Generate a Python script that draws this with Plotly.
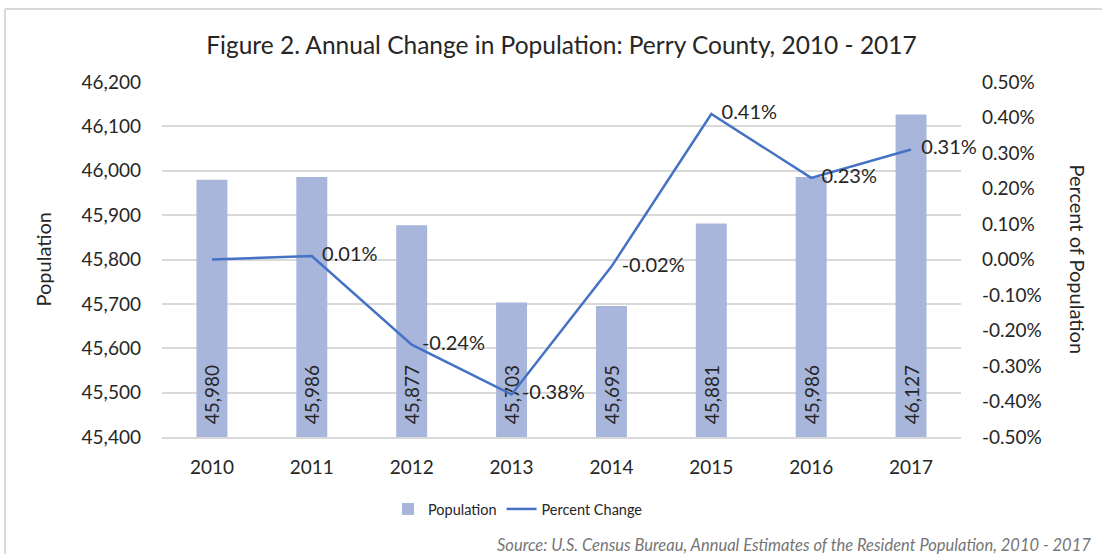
import plotly.graph_objects as go

# data
years = ["2010", "2011", "2012", "2013", "2014", "2015", "2016", "2017"]
population = [45980, 45986, 45877, 45703, 45695, 45881, 45986, 46127]
pct_change = [0.0000, 0.0001, -0.0024, -0.0038, -0.0002, 0.0041, 0.0023, 0.0031]
pct_labels = ["", "0.01%", "-0.24%", "-0.38%", "-0.02%", "0.41%", "0.23%", "0.31%"]

pop_axis_min = 45400
pct_ticks = [-0.005, -0.004, -0.003, -0.002, -0.001, 0, 0.001, 0.002, 0.003, 0.004, 0.005]
pct_ticktext = ["-0.50%", "-0.40%", "-0.30%", "-0.20%", "-0.10%", "0.00%",
                "0.10%", "0.20%", "0.30%", "0.40%", "0.50%"]

FONT = "Lato, 'Liberation Sans', sans-serif"
TXT = "#262626"
GRID = "#D9D9D9"
PAD = "\u00a0\u00a0"

# plot box in pixels
L, R, T, B = 162, 141, 82, 117
PW, PH = 1102 - L - R, 554 - T - B

fig = go.Figure()

# bars start at the axis floor so the value labels sit at the bottom of each bar
fig.add_trace(
    go.Bar(
        x=years,
        y=[p - pop_axis_min for p in population],
        base=pop_axis_min,
        name="Population",
        marker=dict(color="#A9B6DB", line=dict(width=0)),
        text=[PAD + f"{v:,}" for v in population],
        textposition="inside",
        insidetextanchor="start",
        textangle=-90,
        constraintext="none",
        textfont=dict(family=FONT, size=19, color=TXT),
        customdata=population,
        hovertemplate="%{x}: %{customdata:,}<extra></extra>",
    )
)

fig.add_trace(
    go.Scatter(
        x=years,
        y=pct_change,
        name="Percent Change",
        yaxis="y2",
        mode="lines+text",
        line=dict(color="#4472C4", width=2.5),
        text=[PAD + t for t in pct_labels],
        textposition="middle right",
        textfont=dict(family=FONT, size=20, color=TXT),
        cliponaxis=False,
    )
)

fig.update_layout(
    width=1102,
    height=554,
    paper_bgcolor="white",
    plot_bgcolor="white",
    font=dict(family=FONT, color=TXT, size=19),
    margin=dict(l=L, r=R, t=T, b=B),
    title=dict(
        text="Figure 2. Annual Change in Population: Perry County, 2010 - 2017",
        x=0.5,
        xref="paper",
        y=1 - 45 / 554,
        yanchor="middle",
        font=dict(family=FONT, size=24.5, color=TXT),
    ),
    bargap=0.69,
    showlegend=True,
    legend=dict(
        orientation="h",
        x=(518 - L) / PW,
        xanchor="center",
        y=-(493 - 437) / PH,
        yanchor="top",
        font=dict(family=FONT, size=14.5, color=TXT),
    ),
    xaxis=dict(
        showgrid=False,
        showline=True,
        linecolor=GRID,
        linewidth=1.5,
        ticks="",
        tickfont=dict(size=19),
        ticklabelstandoff=12,
    ),
    yaxis=dict(
        range=[pop_axis_min, 46200],
        dtick=100,
        tickformat=",d",
        showgrid=True,
        gridcolor=GRID,
        gridwidth=1.5,
        zeroline=False,
        ticklabelstandoff=20,
        tickfont=dict(size=19),
    ),
    yaxis2=dict(
        overlaying="y",
        side="right",
        range=[-0.005, 0.005],
        tickvals=pct_ticks,
        ticktext=pct_ticktext,
        showgrid=False,
        zeroline=False,
        ticklabelstandoff=20,
        tickfont=dict(size=19),
    ),
    annotations=[
        dict(
            text="Population",
            textangle=-90,
            x=0,
            xref="paper",
            xanchor="center",
            xshift=42 - L,
            y=0.5,
            yref="paper",
            showarrow=False,
            font=dict(size=20),
        ),
        dict(
            text="Percent of Population",
            textangle=90,
            x=1.0,
            xref="paper",
            xanchor="center",
            xshift=1078 - (L + PW),
            y=0.5,
            yref="paper",
            showarrow=False,
            font=dict(size=20),
        ),
        dict(
            text="<i>Source: U.S. Census Bureau, Annual Estimates of the Resident Population, 2010 - 2017</i>",
            x=1.0,
            xref="paper",
            xshift=1093 - (L + PW),
            xanchor="right",
            y=0,
            yref="paper",
            yshift=-(545 - 437),
            yanchor="middle",
            showarrow=False,
            font=dict(size=16.5, color="#767676"),
        ),
    ],
)

# light frame of the original chart box (top and left edges visible)
fx = (5 - L) / PW
fy = (554 - B - 9) / PH
fig.add_shape(type="line", xref="paper", yref="paper",
              x0=fx, x1=(1110 - L) / PW, y0=fy, y1=fy,
              line=dict(color=GRID, width=2))
fig.add_shape(type="line", xref="paper", yref="paper",
              x0=fx, x1=fx, y0=-(B + 10) / PH, y1=fy,
              line=dict(color=GRID, width=2))

fig.write_html("out.html", config={"displayModeBar": False},
               post_script="document.body.style.margin='0';")
